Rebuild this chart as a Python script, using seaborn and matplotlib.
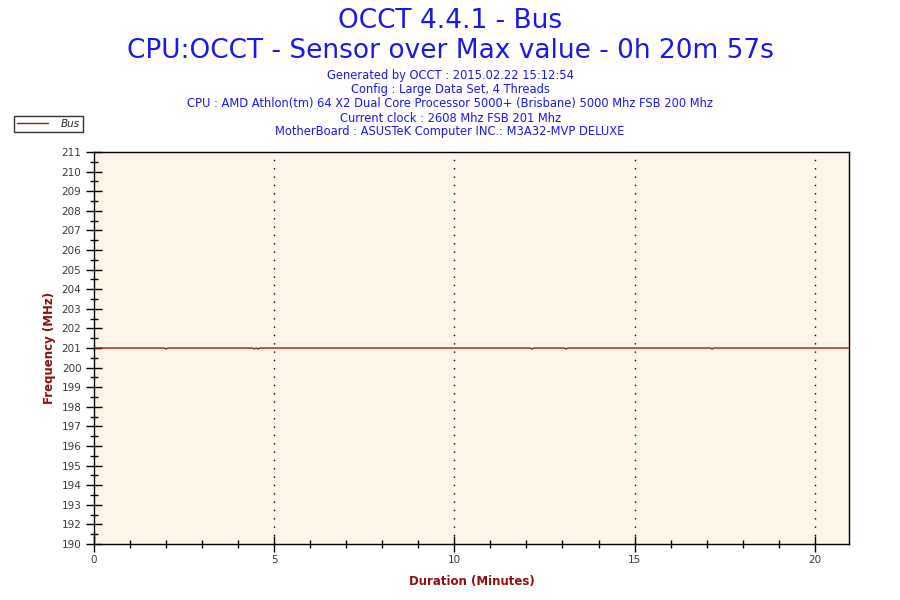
import matplotlib
matplotlib.use("Agg")
import matplotlib.pyplot as plt
from matplotlib.ticker import MultipleLocator, FixedLocator
import pandas as pd
import seaborn as sns

# Datos (minutos, MHz)
minutes = [0.0, 1.95, 2.0, 2.05, 4.4, 4.45, 4.5, 4.55, 4.6, 10.0, 12.1, 12.15, 12.2,
           13.05, 13.1, 13.15, 17.1, 17.15, 17.2, 20.95]
bus_mhz = [201.0, 201.0, 200.95, 201.0, 201.0, 200.95, 201.0, 200.95, 201.0, 201.0,
           201.0, 200.95, 201.0, 201.0, 200.95, 201.0, 201.0, 200.95, 201.0, 201.0]

ytick_pos = [191, 192, 193, 194, 195, 196, 197, 198, 199, 200, 201, 202, 203,
             204, 205, 206, 207, 208, 209, 210, 211]
ytick_labels = ["190", "192", "193", "194", "195", "196", "197", "198", "199", "200",
                "201", "202", "203", "204", "205", "206", "207", "208", "209", "210", "211"]
xtick_pos = [0, 5, 10, 15, 20]

title = "OCCT 4.4.1 - Bus"
subtitle = "CPU:OCCT - Sensor over Max value - 0h 20m 57s"
info_lines = [
    "Generated by OCCT : 2015.02.22 15:12:54",
    "Config : Large Data Set, 4 Threads",
    "CPU : AMD Athlon(tm) 64 X2 Dual Core Processor 5000+ (Brisbane) 5000 Mhz FSB 200 Mhz",
    "Current clock : 2608 Mhz FSB 201 Mhz",
    "MotherBoard : ASUSTeK Computer INC.: M3A32-MVP DELUXE",
]

df = pd.DataFrame({"Duration": minutes, "Bus": bus_mhz})

sns.set_style("white")
plt.rcParams["font.family"] = ["DejaVu Sans"]

fig = plt.figure(figsize=(9, 6), dpi=100)
ax = fig.add_axes([94 / 900, 56 / 600, 755 / 900, 392 / 600])
ax.set_facecolor("#FDF6E8")

# lineas de grilla verticales punteadas
for x in xtick_pos[1:]:
    ax.axvline(x, color="black", linestyle=(0, (1, 5)), linewidth=1.0, zorder=1)

sns.lineplot(data=df, x="Duration", y="Bus", ax=ax, color="#A01818", linewidth=1.0,
             label="Bus", zorder=3)

ax.set_xlim(0, 20.95)
ax.set_ylim(191, 211)

ax.yaxis.set_major_locator(FixedLocator(ytick_pos))
ax.set_yticklabels(ytick_labels)
ax.yaxis.set_minor_locator(MultipleLocator(0.5))
ax.xaxis.set_major_locator(FixedLocator(xtick_pos))
ax.xaxis.set_minor_locator(MultipleLocator(1))

ax.tick_params(axis="both", which="both", bottom=True, left=True, top=False, right=False)
ax.tick_params(axis="both", which="major", direction="inout", length=12, width=1,
               colors="black", labelcolor="#3a3a3a", labelsize=7.5)
ax.tick_params(axis="both", which="minor", direction="inout", length=6, width=1,
               colors="black")
ax.tick_params(axis="x", which="major", pad=2)
ax.tick_params(axis="y", which="major", pad=3)

for s in ax.spines.values():
    s.set_visible(True)
    s.set_color("black")
    s.set_linewidth(1.0)

ax.set_xlabel("Duration (Minutes)", color="#8B1010", fontsize=8.5, fontweight="bold",
              labelpad=7)
ax.set_ylabel("Frequency (MHz)", color="#8B1010", fontsize=8.5, fontweight="bold",
              labelpad=4)

fig.text(0.5, 1 - 21 / 600, title, ha="center", va="center", color="#1A1AE6", fontsize=19)
fig.text(0.5, 1 - 51 / 600, subtitle, ha="center", va="center", color="#1A1AE6",
         fontsize=19)
for i, line in enumerate(info_lines):
    fig.text(0.5, 1 - (76 + i * 14) / 600, line, ha="center", va="center",
             color="#1A1AE6", fontsize=8.3)

leg = ax.legend(loc="center left", bbox_to_anchor=(14 / 900, 1 - 124 / 600),
                bbox_transform=fig.transFigure, frameon=True, fancybox=False,
                fontsize=7.5, handlelength=3.0, borderpad=0.3, handletextpad=1.2,
                borderaxespad=0)
leg.get_frame().set_edgecolor("black")
leg.get_frame().set_linewidth(1.0)
for t in leg.get_texts():
    t.set_fontstyle("italic")

fig.savefig("out.png", dpi=100, facecolor="white")
